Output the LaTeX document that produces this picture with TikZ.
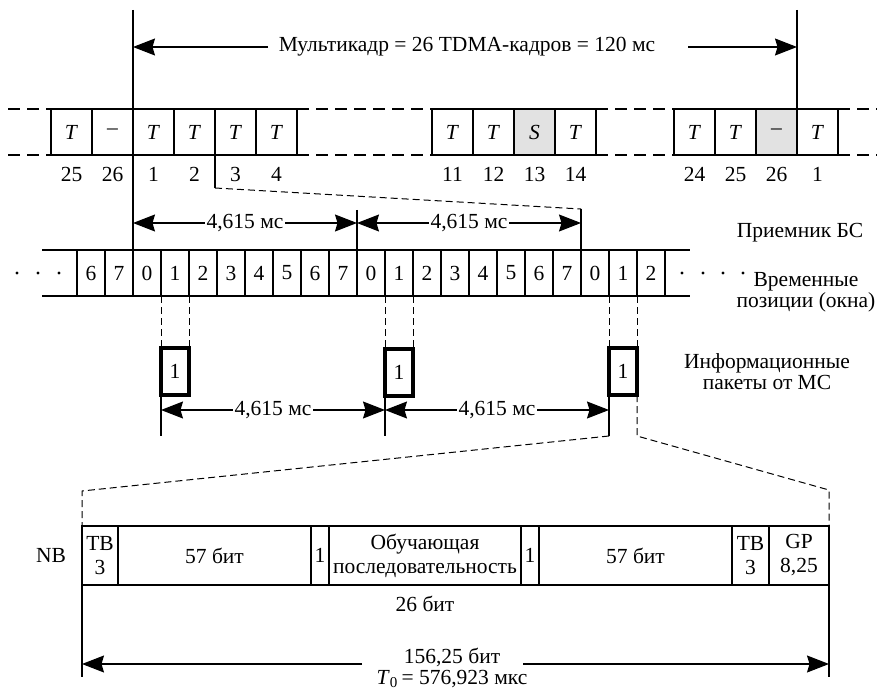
\documentclass[tikz,border=0pt]{standalone}
\usepackage{fontspec}
\setmainfont{Liberation Serif}
\usetikzlibrary{arrows.meta, positioning, calc}

\definecolor{idlegray}{RGB}{226, 226, 226}

\tikzset{
  txt/.style={font=\fontsize{21.5}{21}\selectfont},
  frcell/.style={draw, line width=1.8pt, minimum width=41pt, minimum height=46pt,
    inner sep=0pt, outer sep=0pt, anchor=north west, txt},
  tscell/.style={draw, line width=1.6pt, minimum width=28pt, minimum height=46pt,
    inner sep=0pt, outer sep=0pt, anchor=north west, txt},
  pkt/.style={draw, line width=3.2pt, minimum width=28pt, minimum height=47pt,
    inner sep=0pt, outer sep=0pt, anchor=north west, txt},
  fld/.style={draw, line width=2.8pt, minimum height=59pt, inner sep=0pt,
    outer sep=0pt, anchor=north west, align=center, font=\fontsize{21.5}{24}\selectfont},
  rowdash/.style={line width=1.8pt, dash pattern=on 12pt off 7pt},
  zoomdash/.style={line width=1pt, dash pattern=on 7pt off 4pt},
  fine/.style={line width=1.1pt},
  dimtip/.style={fine, -{Stealth[length=22pt, width=17pt, inset=2.5pt]}},
  dimboth/.style={fine, {Stealth[length=22pt, width=17pt, inset=2.5pt]}-{Stealth[length=22pt, width=17pt, inset=2.5pt]}},
  dimlbl/.style={txt, fill=white, inner xsep=1.5pt, inner ysep=0pt},
}

\begin{document}
\begin{tikzpicture}[x=1pt, y=-1pt]
  \useasboundingbox (0,0) rectangle (877,692);

  % multiframe: 26 TDMA frames
  \foreach \x/\s/\n/\c [count=\i] in {51/T/25/white, 92/--/26/white, 133/T/1/white,
      174/T/2/white, 215/T/3/white, 256/T/4/white,
      432/T/11/white, 473/T/12/white, 514/S/13/idlegray, 555/T/14/white,
      674/T/24/white, 715/T/25/white, 756/--/26/idlegray, 797/T/1/white}
    \node[frcell, fill=\c, label={[txt, label distance=9pt]below:\n}] (mf\i) at (\x,109) {\textit{\s}};

  \coordinate (dashL) at (8,109);
  \coordinate (dashR) at (877,109);
  \draw[rowdash] (dashL) -- (mf1.north west) (mf6.north east) -- (mf7.north west)
    (mf10.north east) -- (mf11.north west) (mf14.north east) -- (dashR);
  \draw[rowdash] (dashL |- mf1.south) -- (mf1.south west) (mf6.south east) -- (mf7.south west)
    (mf10.south east) -- (mf11.south west) (mf14.south east) -- (dashR |- mf14.south);

  \node[txt] (mftext) at (467,47) {Мультикадр = 26 TDMA-кадров = 120 мс};
  \coordinate (mfstart) at (133,10);
  \coordinate (mfend) at (797,10);
  \coordinate (mfa) at (268,47);
  \coordinate (mfb) at (688,47);
  \draw[fine] (mfend) -- (mf14.north west);
  \draw[dimtip] (mfa) -- (mfa -| mfstart);
  \draw[dimtip] (mfb) -- (mfb -| mfend);

  % time slots at the BS receiver
  \foreach \n [count=\i from 0] in {6,7,0,1,2,3,4,5,6,7,0,1,2,3,4,5,6,7,0,1,2}
    \node[tscell] (ts\i) at ({77+28*\i},250) {\n};
  \coordinate (tsL) at (42,250);
  \coordinate (tsR) at (690,250);
  \draw[line width=1.6pt] (tsL) -- (ts0.north west) (tsL |- ts0.south) -- (ts0.south west)
    (ts20.north east) -- (tsR) (ts20.south east) -- (tsR |- ts20.south);
  \foreach \x in {17,38,59,682,703,723,743}
    \fill (\x,273) circle (1.7);

  \draw[fine] (mfstart) -- (ts2.north west);

  % frames 1-2 opened out
  \coordinate (zk1) at (215,188);
  \coordinate (zk2) at (581,209);
  \coordinate (zk3) at (357,210);
  \draw[fine] (mf5.south west) -- (zk1);
  \draw[zoomdash] (zk1) -- (zk2);
  \draw[fine] (zk2) -- (ts18.north west);
  \draw[fine] (zk3) -- (ts10.north west);

  \coordinate (d1) at (133,223);
  \coordinate (d2) at (357,223);
  \coordinate (d3) at (581,223);
  \draw[dimboth] (d1) -- node[dimlbl] {4,615 мс} (d2);
  \draw[dimboth] (d2) -- node[dimlbl] {4,615 мс} (d3);

  % packets from the MS
  \node[pkt] (p1) at (161,348) {1};
  \node[pkt] (p2) at (385,349) {1};
  \node[pkt] (p3) at (609,348) {1};
  \foreach \k/\s in {1/3, 2/11, 3/19} {
    \draw[zoomdash] (ts\s.south west) -- (p\k.north west);
    \draw[zoomdash] (ts\s.south east) -- (p\k.north east);
  }
  \foreach \k/\x in {1/161, 2/385, 3/609} {
    \coordinate (v\k) at (\x,436);
    \coordinate (b\k) at (\x,410);
    \draw[fine] (p\k.south west) -- (v\k);
  }
  \draw[dimboth] (b1) -- node[dimlbl] {4,615 мс} (b2);
  \draw[dimboth] (b2) -- node[dimlbl] {4,615 мс} (b3);

  \node[txt] (rxname) at (800,233) {Приемник БС};
  \node[txt, align=center] (slotname) at (806,292) {Временные\\позиции (окна)};
  \node[txt, align=center] (pktname) at (767,372) {Информационные\\пакеты от МС};

  % normal burst
  \foreach \l/\r/\t [count=\i] in {82/118/{TB\\3}, 118/311/57 бит, 311/329/1,
      329/521/{Обучающая\\последовательность}, 521/539/1, 539/732/57 бит,
      732/769/{TB\\3}, 769/829/{GP\\8,25}}
    \node[fld, minimum width={\r-\l}] (f\i) at (\l,526) {\t};

  \node[txt, left=12.5pt of f1] (nb) {NB};
  \node[txt, below=8pt of f4] (len26) {26 бит};

  \coordinate (v4) at (637,436);
  \coordinate (zl) at (82,491);
  \coordinate (zr) at (829,490);
  \draw[zoomdash] (v3) -- (zl) -- (f1.north west);
  \draw[zoomdash] (p3.south east) -- (v4) -- (zr) -- (f8.north east);

  \coordinate (vl) at (82,677);
  \coordinate (vr) at (829,677);
  \draw[fine] (f1.south west) -- (vl);
  \draw[fine] (f8.south east) -- (vr);
  \node[txt, align=center] (total) at (452,668) {156,25 бит\\\textit{T}\textsubscript{0}\,= 576,923 мкс};
  \coordinate (t1) at (362,664);
  \coordinate (t2) at (523,664);
  \draw[dimtip] (t1) -- (t1 -| vl);
  \draw[dimtip] (t2) -- (t2 -| vr);
\end{tikzpicture}
\end{document}
